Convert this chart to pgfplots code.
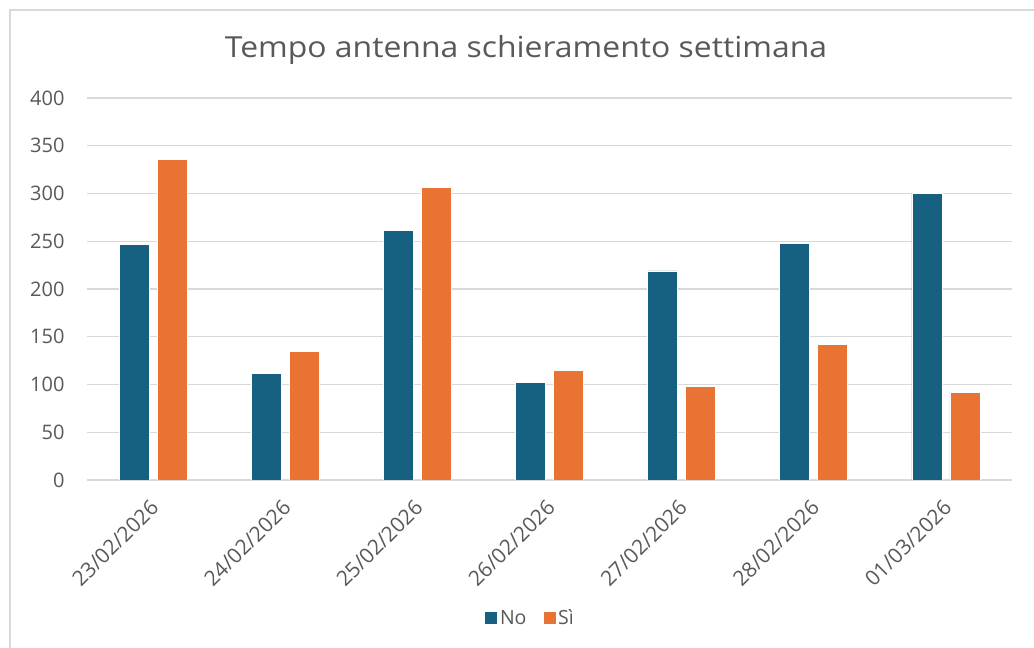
\documentclass[border=0pt]{standalone}
\usepackage{fontspec}
\setmainfont{Open Sans}
\usepackage{pgfplots}
\pgfplotsset{compat=1.18}
\definecolor{cNo}{RGB}{22,96,130}
\definecolor{cSi}{RGB}{233,115,51}
\definecolor{gridc}{RGB}{217,217,217}
\definecolor{txt}{RGB}{89,89,89}
\begin{document}
\begin{tikzpicture}[x=1pt,y=1pt]
\path[use as bounding box, fill=white] (0,0) rectangle (1034,648);
\draw[gridc, line width=1.2pt] (10,0) -- (10,638) -- (1034,638);
\node[text=txt, font=\fontsize{29}{32}\selectfont, xscale=1.1] at (526,598) {Tempo antenna schieramento settimana};
\begin{axis}[
  at={(87pt,168pt)}, anchor=south west,
  scale only axis, width=925pt, height=382pt,
  ybar, bar width=30pt,
  xmin=-0.5, xmax=6.5, ymin=0, ymax=400,
  ytick={0,50,...,400},
  xtick={0,...,6},
  xticklabels={23/02/2026,24/02/2026,25/02/2026,26/02/2026,27/02/2026,28/02/2026,01/03/2026},
  major x tick style={draw=none},
  major y tick style={draw=none},
  extra x ticks={-0.5,0.5,...,6.5},
  extra x tick labels={},
  extra x tick style={grid=none, tick align=outside, major tick length=6pt, tick style={draw=gridc, line width=1.2pt}},
  axis x line*=bottom, axis y line*=left,
  y axis line style={draw=none},
  x axis line style={draw=gridc, line width=1.2pt},
  ymajorgrids, grid style={draw=gridc, line width=1.2pt},
  /pgf/number format/assume math mode=true,
  tick label style={text=txt, font=\fontsize{20}{22}\selectfont},
  yticklabel style={xshift=-19pt},
  xticklabel style={xshift=4pt, yshift=-17pt, rotate=45, anchor=east, font=\fontsize{21}{23}\selectfont},
  legend style={at={(0.479,-0.361)}, anchor=center, draw=none, legend columns=2,
    font=\fontsize{19.5}{21}\selectfont, text=txt,
    /tikz/every even column/.append style={column sep=14pt}},
  legend image code/.code={\fill[#1] (0pt,-6.5pt) rectangle (13pt,6.5pt);},
]
\addplot[fill=cNo, draw=white, line width=0.6pt, bar shift=-19pt] coordinates {(0,247) (1,112) (2,261) (3,102) (4,219) (5,248) (6,300)};
\addplot[fill=cSi, draw=white, line width=0.6pt, bar shift=19pt] coordinates {(0,336) (1,135) (2,306) (3,115) (4,98) (5,142) (6,92)};
\legend{No,Sì}
\end{axis}
\end{tikzpicture}
\end{document}
